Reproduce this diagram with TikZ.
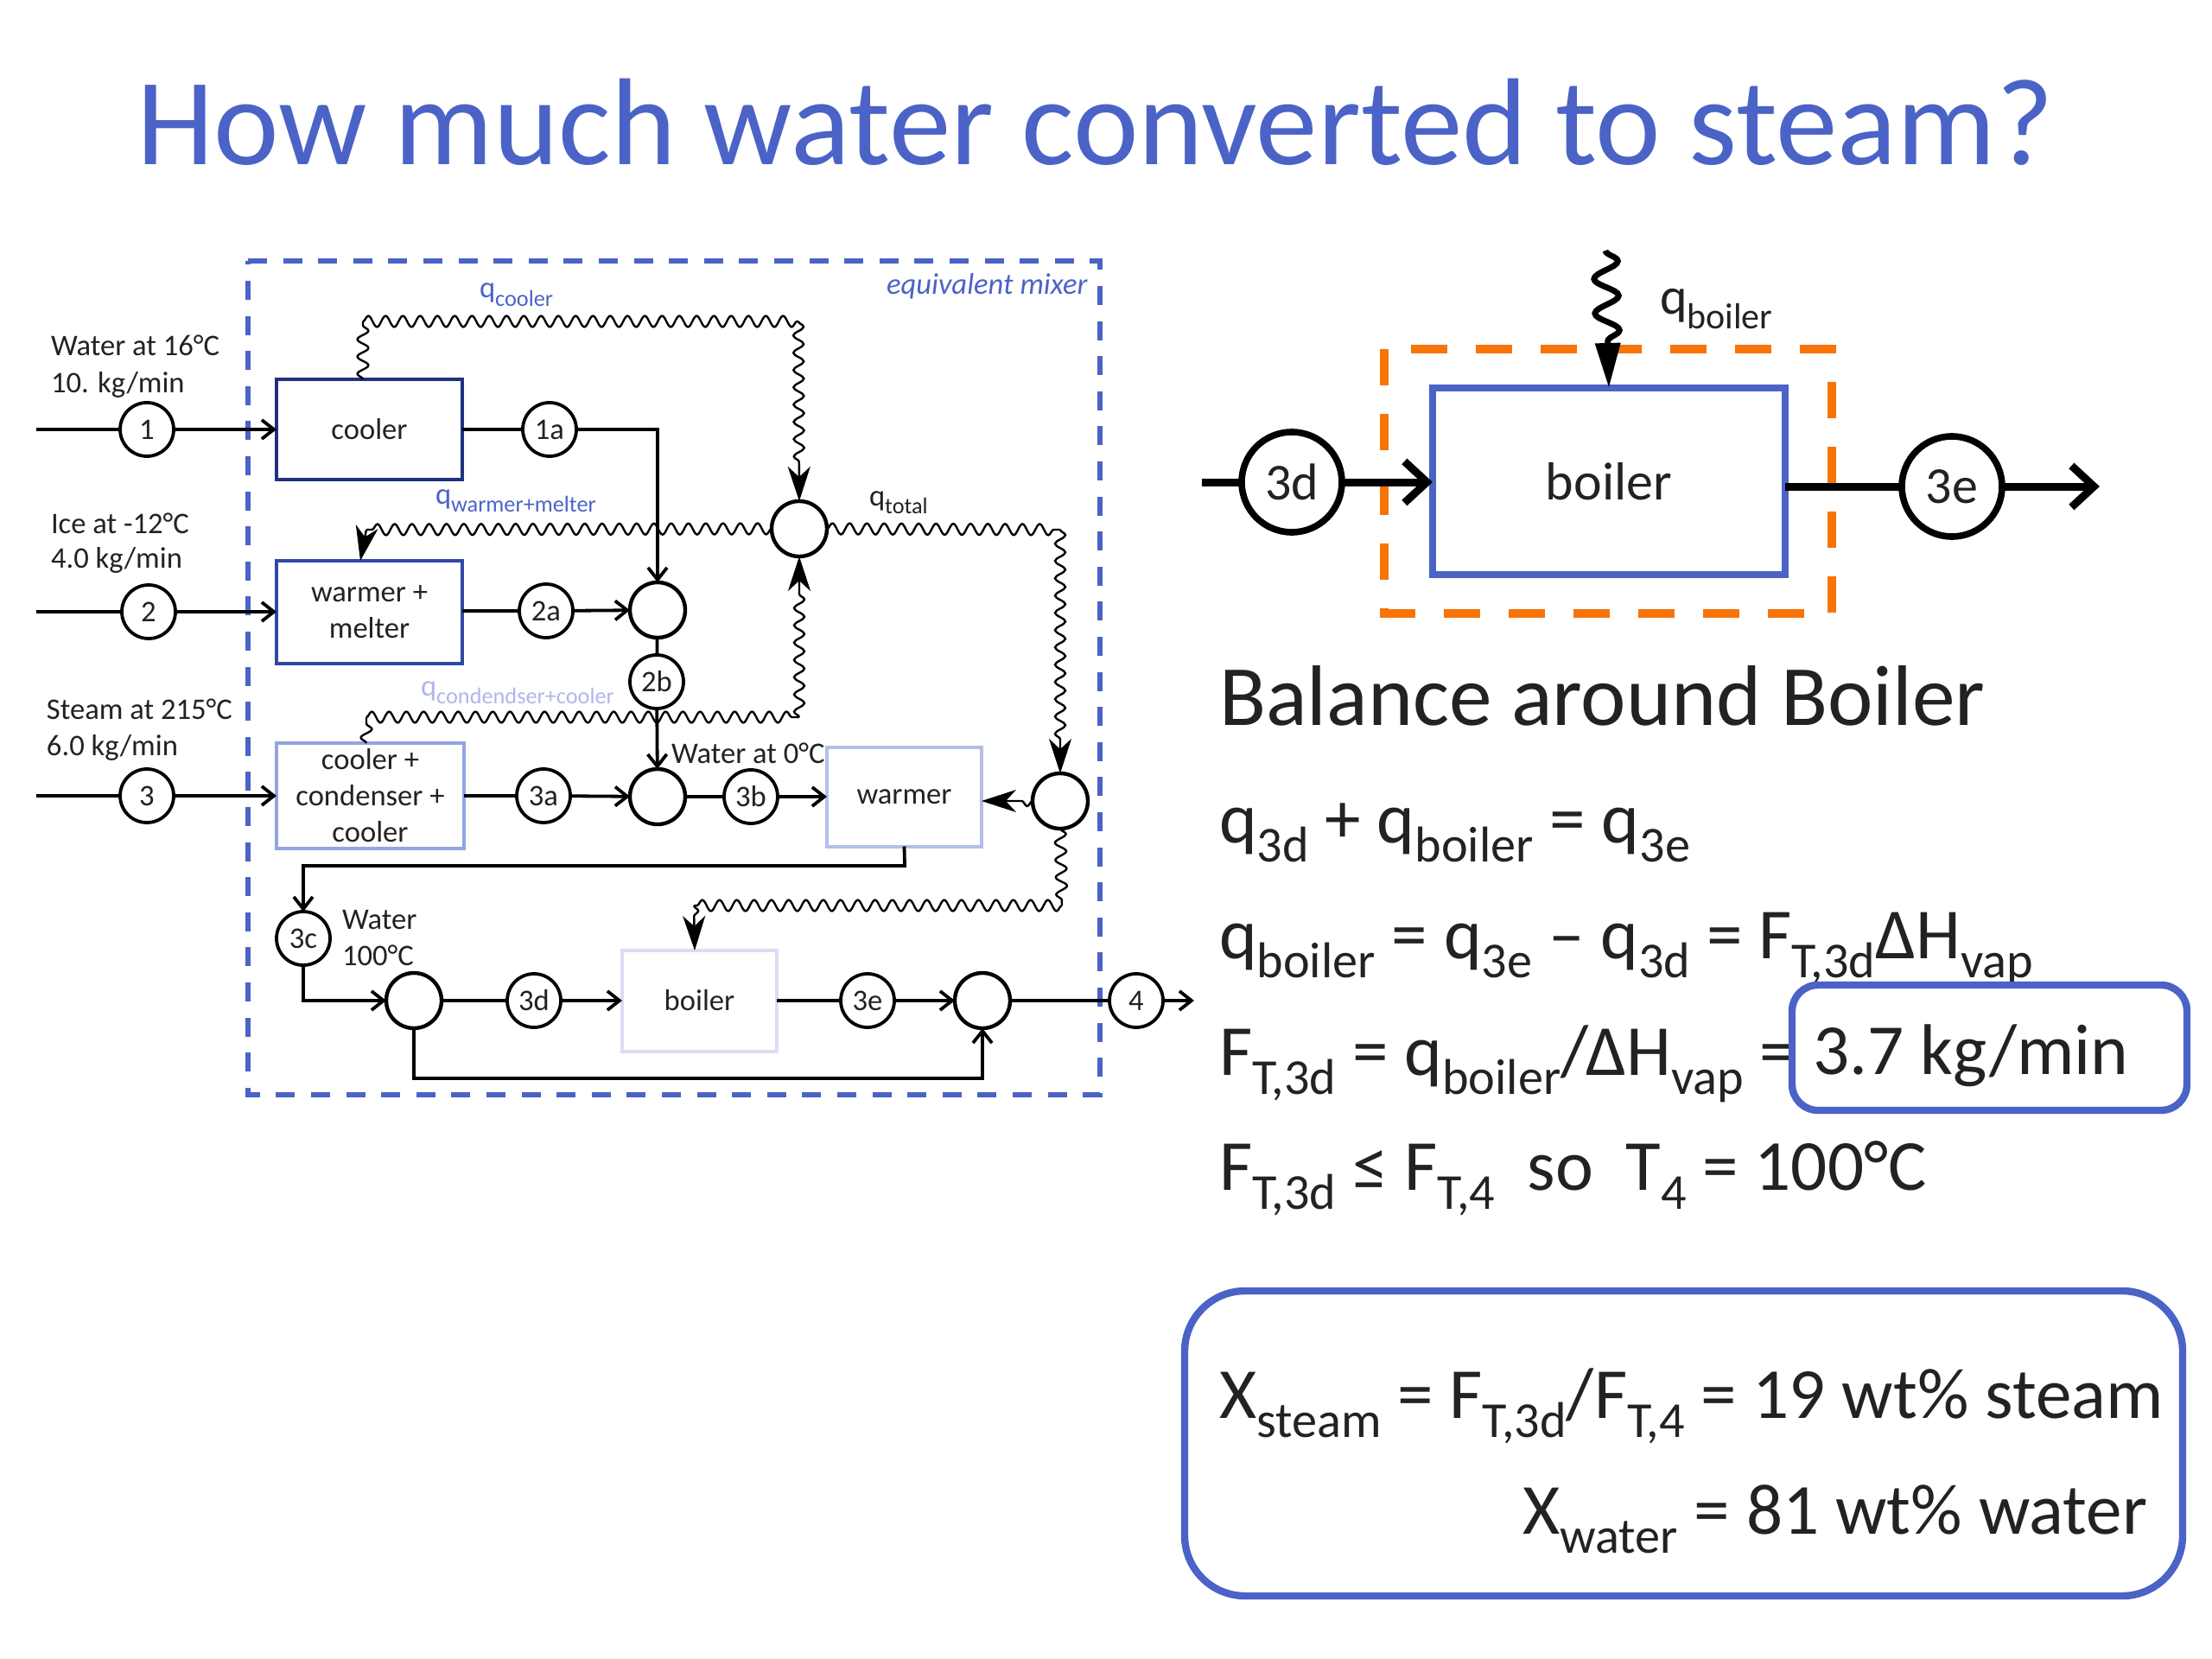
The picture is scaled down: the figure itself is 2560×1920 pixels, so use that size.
\documentclass[tikz,border=0pt]{standalone}
\usepackage{fontspec}
\setmainfont{Carlito}
\usetikzlibrary{arrows.meta,decorations.pathmorphing}
\definecolor{ttl}{HTML}{4B63C6}
\definecolor{bdark}{HTML}{20317F}
\definecolor{bmid}{HTML}{2F49A6}
\definecolor{blite}{HTML}{93A4E2}
\definecolor{bpale}{HTML}{B4BEEA}
\definecolor{bfaint}{HTML}{D9DDF5}
\definecolor{qfaint}{HTML}{AEB8EA}
\definecolor{org}{HTML}{F97306}
\definecolor{ink}{HTML}{222222}
\newcommand\mysub[1]{\raisebox{-0.27em}{\scalebox{0.70}{#1}}}
\newcommand\mysubl[1]{\raisebox{-0.27em}{\scalebox{0.76}{#1}}}
\tikzset{
  x=0.5pt,y=-0.5pt,
  every node/.style={inner sep=0pt,outer sep=0pt,text=ink},
  lab/.style={anchor=base west,font=\fontsize{17.3}{21}\selectfont},
  eqn/.style={anchor=base west,font=\fontsize{41.6}{50}\selectfont},
  stream/.style={circle,draw=black,fill=white,line width=1.9pt,minimum size=31pt,font=\fontsize{17.3}{21}\selectfont},
  mixer/.style={circle,draw=black,fill=white,line width=2.2pt,minimum size=32pt},
  unit/.style={rectangle,draw,fill=white,line width=2pt,align=center,font=\fontsize{17.3}{21}\selectfont},
  flow/.style={draw=black,line width=1.9pt},
  flowa/.style={flow,-{Straight Barb[length=7pt,width=11pt]}},
  wavy/.style={draw=black,line width=1.2pt,decorate,decoration={snake,segment length=10pt,amplitude=3.2pt}},
  wavya/.style={wavy,decoration={snake,segment length=10pt,amplitude=3pt,post length=18pt},-{Stealth[length=20pt,width=13pt,inset=6pt]}},
  hiflow/.style={draw=black,line width=4.5pt},
  hiflowa/.style={hiflow,-{Straight Barb[length=13pt,width=24pt]}},
  hicirc/.style={circle,draw=black,fill=white,line width=3.8pt,minimum size=58pt,font=\fontsize{30}{36}\selectfont},
  callout/.style={draw=ttl,line width=4.2pt}
}
\begin{document}
\begin{tikzpicture}
\useasboundingbox (0,0) rectangle (2560,1920);
% title
\node[anchor=base west,font=\fontsize{71.6}{80}\selectfont,text=ttl] (title) at (158,191) {How much water converted to steam?};

% equivalent mixer frame
\draw[draw=ttl,line width=2.6pt,dash pattern=on 11pt off 9.3pt] (287,302) -- (1273,302) -- (1273,1267) -- (287,1267) -- cycle;
\node[lab,text=ttl,font=\fontsize{17.3}{21}\selectfont\itshape] (eqmix) at (1026,341) {equivalent mixer};

% left feed labels
\node[lab] (w1) at (59,412) {Water at 16°C};
\node[lab] (w2) at (59,455) {10. kg/min};
\node[lab] (i1) at (59,617) {Ice at -12°C};
\node[lab] (i2) at (59,657) {4.0 kg/min};
\node[lab] (s1) at (54,832) {Steam at 215°C};
\node[lab] (s2) at (54,874) {6.0 kg/min};
\node[lab] (wz) at (777,883) {Water at 0°C};
\node[lab] (wa) at (396,1075) {Water};
\node[lab] (wb) at (396,1117) {100°C};

% units
\node[unit,draw=bdark,minimum width=107.5pt,minimum height=58pt] (cooler) at (427.5,497) {\raisebox{-1pt}{cooler}};
\node[unit,draw=bmid,minimum width=107.5pt,minimum height=59.5pt] (wm) at (427.5,708) {\raisebox{-1pt}{warmer +}\\\raisebox{-1pt}{melter}};
\node[unit,draw=blite,minimum width=108.5pt,minimum height=61pt] (cond) at (428.5,921) {cooler +\\condenser +\\cooler};
\node[unit,draw=bpale,minimum width=89.5pt,minimum height=57.5pt] (warmer) at (1046.5,922) {\raisebox{-1pt}{warmer}};
\node[unit,draw=bfaint,minimum width=89.5pt,minimum height=58.5pt] (boilA) at (809.5,1158) {boiler};

% streams
\node[stream] (n1) at (170,497) {1};
\node[stream] (n1a) at (636,497) {1a};
\node[stream] (n2) at (172,708) {2};
\node[stream] (n2a) at (632,707) {2a};
\node[stream] (n2b) at (760,789) {2b};
\node[stream] (n3) at (170,921) {3};
\node[stream] (n3a) at (629,921) {3a};
\node[stream] (n3b) at (869,922) {3b};
\node[stream] (n3c) at (351,1086) {3c};
\node[stream] (n3d) at (618,1158) {3d};
\node[stream] (n3e) at (1004,1158) {3e};
\node[stream] (n4) at (1315,1158) {4};

% mixers
\node[mixer] (m1) at (761,706) {};
\node[mixer] (m2) at (761,922) {};
\node[mixer] (mq) at (925,612) {};
\node[mixer] (mr) at (1227,927) {};
\node[mixer] (m4) at (479,1158) {};
\node[mixer] (m5) at (1137,1158) {};

% free ends and corners
\coordinate (f1) at (42,497);
\coordinate (f2) at (42,708);
\coordinate (f3) at (42,921);
\coordinate (fout) at (1382,1158);
\coordinate (c1a) at (761,497);
\coordinate (cwb) at (1047,1002);
\coordinate (cwc) at (351,1002);
\coordinate (c3c) at (351,1158);
\coordinate (cby1) at (479,1248);
\coordinate (cby2) at (1137,1248);

% process lines
\draw[flow] (f1) -- (n1);
\draw[flowa] (n1) -- (cooler);
\draw[flow] (cooler) -- (n1a);
\draw[flowa] (n1a) -- (c1a) -- (m1);
\draw[flow] (f2) -- (n2);
\draw[flowa] (n2) -- (wm);
\draw[flow] (wm.east |- n2a) -- (n2a);
\draw[flowa] (n2a) -- (m1);
\draw[flow] (m1) -- (n2b);
\draw[flowa] (n2b) -- (m2);
\draw[flow] (f3) -- (n3);
\draw[flowa] (n3) -- (cond);
\draw[flow] (cond) -- (n3a);
\draw[flowa] (n3a) -- (m2);
\draw[flow] (m2) -- (n3b);
\draw[flowa] (n3b) -- (warmer);
\draw[flowa] (warmer.south) -- (cwb) -- (cwc) -- (n3c);
\draw[flowa] (n3c) -- (c3c) -- (m4);
\draw[flow] (m4) -- (n3d);
\draw[flowa] (n3d) -- (boilA);
\draw[flow] (boilA) -- (n3e);
\draw[flowa] (n3e) -- (m5);
\draw[flow] (m5) -- (n4);
\draw[flowa] (n4) -- (fout);
\draw[flowa] (m4.south) -- (cby1) -- (cby2) -- (m5.south);

% heat lines
\coordinate (hc0) at (420,439);
\coordinate (hc1) at (420,372);
\coordinate (hc2) at (924,372);
\draw[wavy] (hc0) -- (hc1);
\draw[wavy] (hc1) -- (hc2);
\draw[wavya] (hc2) -- (mq.north);

\coordinate (hw1) at (424,613);
\coordinate (hw2) at (417,649);
\draw[wavy] (mq.west) -- (hw1);
\draw[wavya,decoration={snake,segment length=10pt,amplitude=2pt,post length=18pt}] (hw1) -- (hw2);

\coordinate (hd0) at (424,860);
\coordinate (hd1) at (424,830);
\coordinate (hd2) at (925,830);
\draw[wavy] (hd0) -- (hd1);
\draw[wavy] (hd1) -- (hd2);
\draw[wavya] (hd2) -- (mq.south);

\coordinate (ht1) at (1227,613);
\draw[wavy] (mq.east) -- (ht1);
\draw[wavya] (ht1) -- (mr.north);
\coordinate (hr) at (warmer.east |- mr);
\draw[wavya,decoration={snake,segment length=10pt,amplitude=3pt,post length=19pt}] (mr.west) -- (hr);
\coordinate (hb1) at (1229,1048);
\coordinate (hb2) at (803,1048);
\coordinate (hb3) at (804,1100);
\draw[wavy] (mr.south) -- (hb1);
\draw[wavy] (hb1) -- (hb2);
\draw[wavya,decoration={snake,segment length=10pt,amplitude=2.5pt,post length=18pt}] (hb2) -- (hb3);

% heat labels
\node[lab,text=ttl] (qc) at (555,345) {q\mysubl{cooler}};
\node[lab,text=ttl] (qw) at (504,583) {q\mysubl{warmer+melter}};
\node[lab,text=qfaint] (qd) at (487,805) {q\mysubl{condendser+cooler}};
\node[lab] (qt) at (1006,585) {q\mysubl{total}};

% boiler close-up
\draw[draw=org,line width=4.6pt,dash pattern=on 21pt off 16.5pt] (1633,404) -- (2120,404) -- (2120,710) -- (1602,710) -- (1602,404);
\node[unit,draw=ttl,line width=4.4pt,minimum width=204pt,minimum height=108pt,font=\fontsize{31}{36}\selectfont] (boilB) at (1862,557) {boiler};
\node[hicirc] (h3d) at (1495,558) {3d};
\node[hicirc] (h3e) at (2259,563) {3e};
\coordinate (hf0) at (1391,558);
\coordinate (hf1) at (2430,563);
\draw[hiflow] (hf0) -- (h3d);
\draw[hiflowa] (h3d) -- (boilB.west |- h3d);
\draw[hiflow] (boilB.east |- h3e) -- (h3e);
\draw[hiflowa] (h3e) -- (hf1);
\coordinate (hq0) at (1858,290);
\draw[draw=black,line width=3.4pt,decorate,decoration={snake,segment length=20pt,amplitude=7pt,post length=26pt},-{Stealth[length=26pt,width=14pt,inset=0pt]}] (hq0) -- (boilB.north);
\node[anchor=base west,font=\fontsize{30}{36}\selectfont] (qb) at (1921,364) {q\mysub{boiler}};

% balance
\node[eqn,font=\fontsize{49.7}{56}\selectfont] (bal) at (1411,839) {Balance around Boiler};
\node[eqn] (e1) at (1411,975) {q\mysub{3d} + q\mysub{boiler} = q\mysub{3e}};
\node[eqn] (e2) at (1411,1109) {q\mysub{boiler} = q\mysub{3e} – q\mysub{3d} = F\mysub{T,3d}ΔH\mysub{vap}};
\node[eqn] (e3) at (1411,1244) {F\mysub{T,3d} = q\mysub{boiler}/ΔH\mysub{vap} =};
\node[eqn] (e4) at (1411,1377) {F\mysub{T,3d} ≤ F\mysub{T,4}\ \ so\ \ T\mysub{4} = 100°C};

% answer boxes
\draw[callout,rounded corners=15pt] (2074,1140) rectangle (2531,1285);
\node[eqn] (ans) at (2098,1243) {3.7 kg/min};
\draw[callout,rounded corners=35pt] (1371,1494) rectangle (2526,1847);
\node[eqn] (x1) at (1411,1641) {X\mysub{steam} = F\mysub{T,3d}/F\mysub{T,4} = 19 wt\% steam};
\node[eqn,anchor=base east] (x2) at (2485,1775) {X\mysub{water} = 81 wt\% water};
\end{tikzpicture}
\end{document}
